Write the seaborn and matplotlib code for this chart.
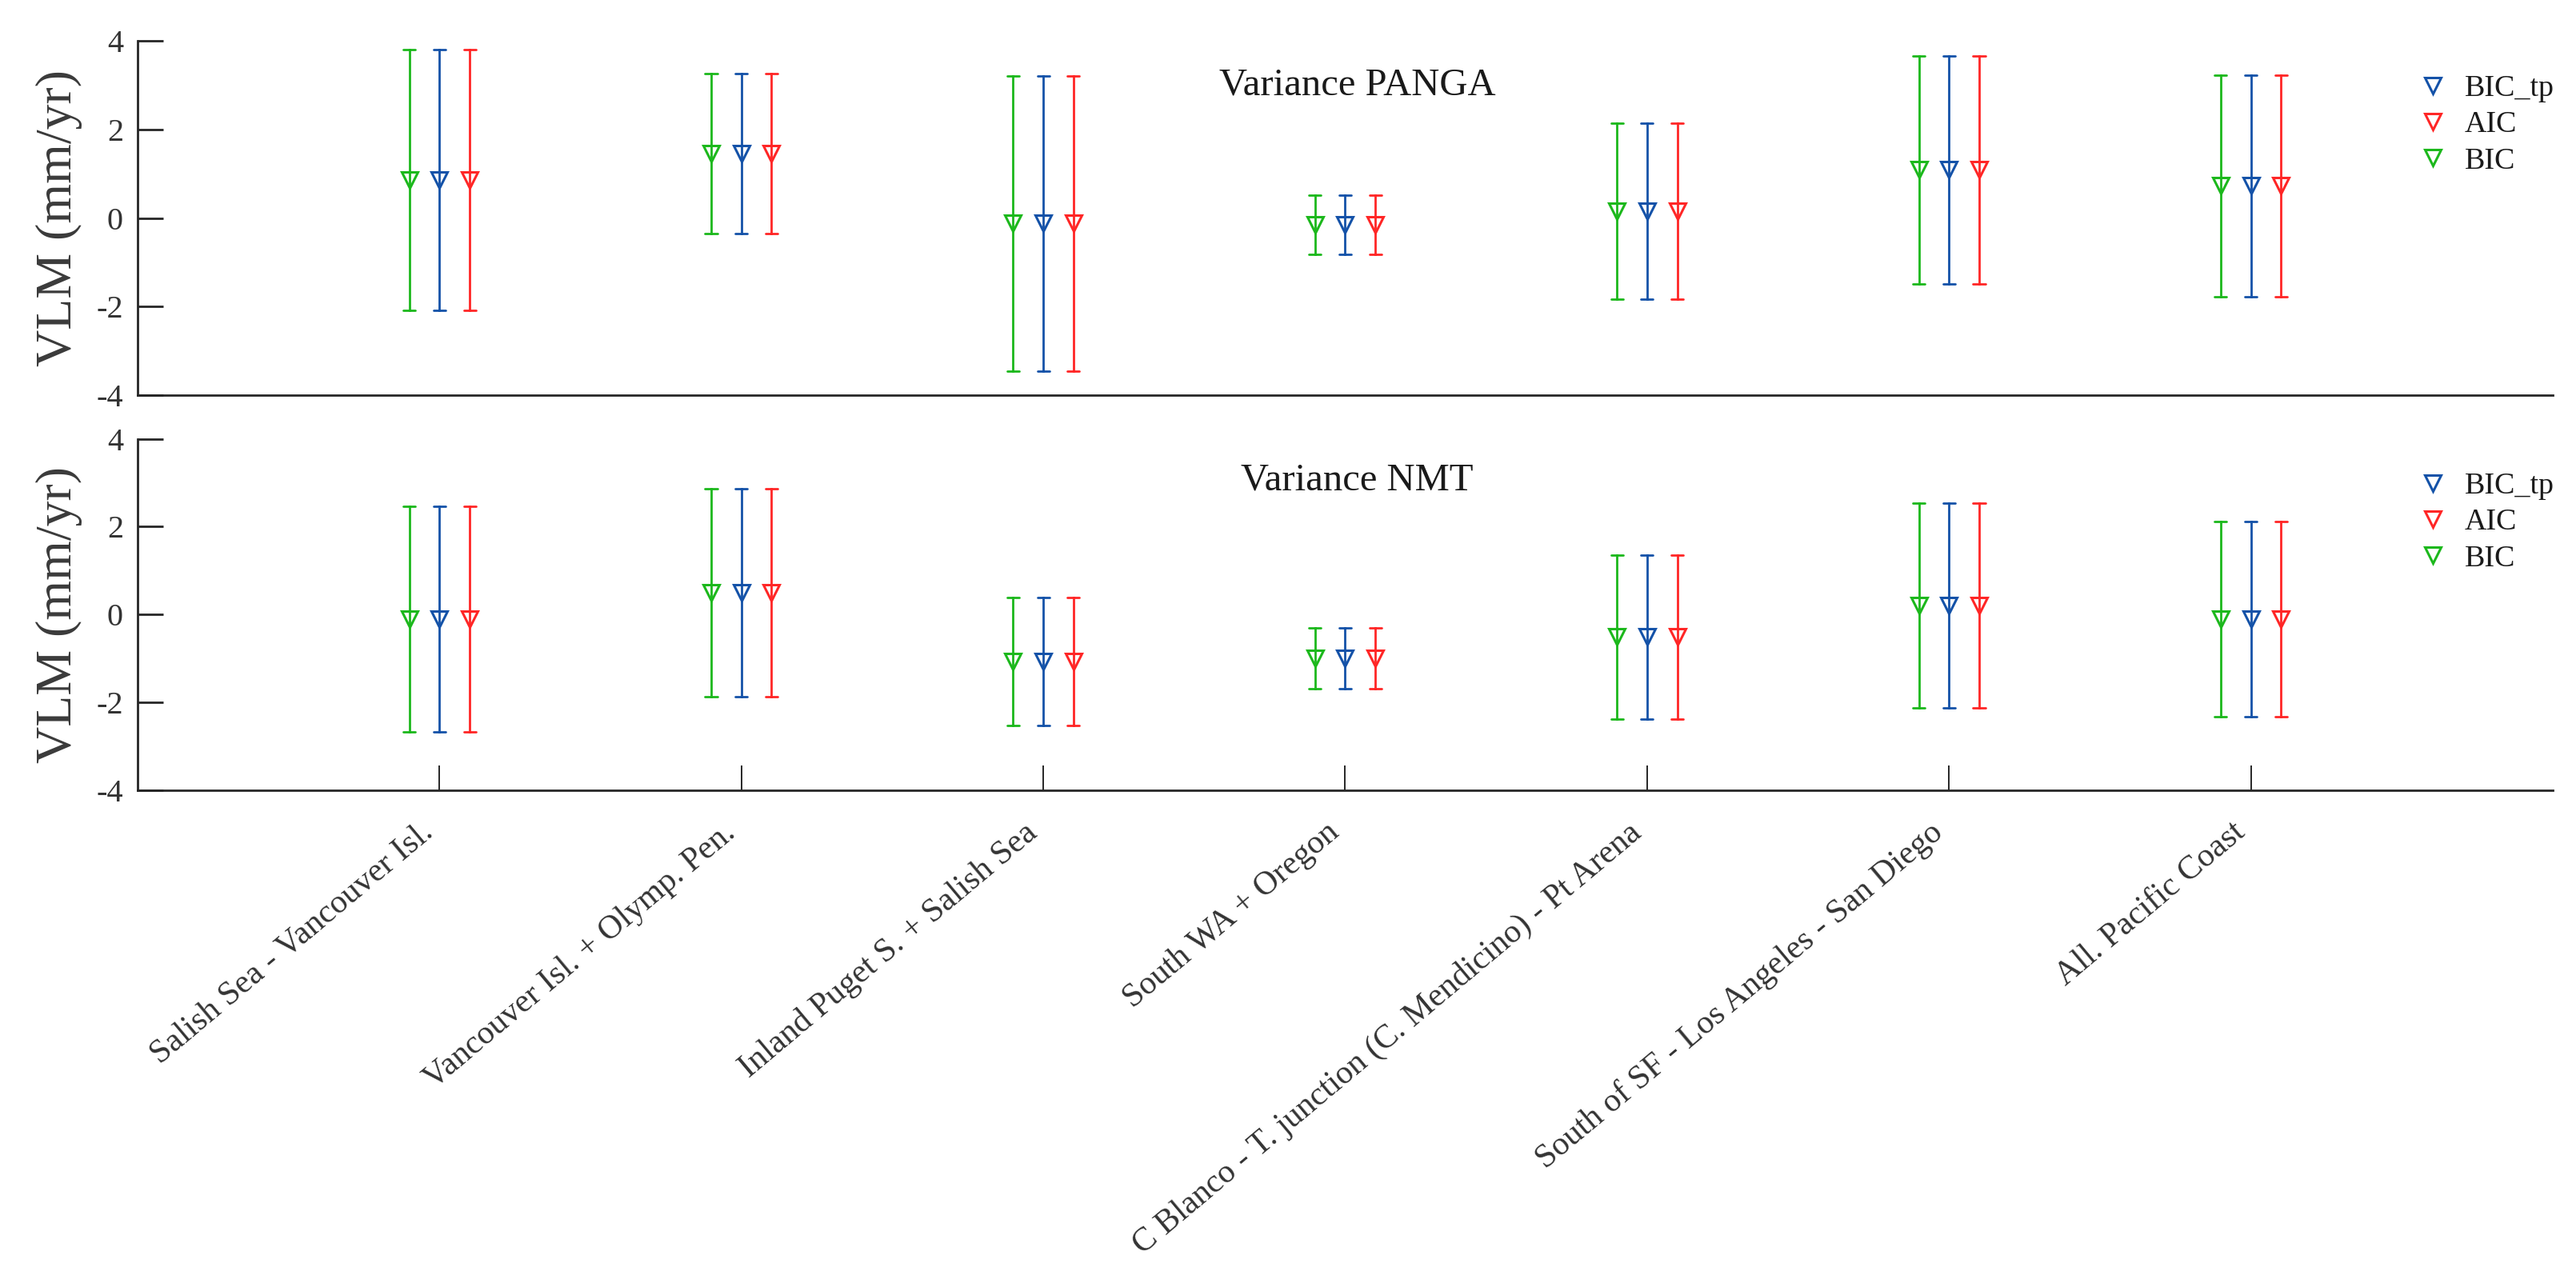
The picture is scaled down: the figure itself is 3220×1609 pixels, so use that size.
import pandas as pd
import matplotlib
matplotlib.use("Agg")
import matplotlib.pyplot as plt
import matplotlib.transforms as mtransforms
from matplotlib.lines import Line2D
import seaborn as sns

regions = [
    "Salish Sea - Vancouver Isl.",
    "Vancouver Isl. + Olymp. Pen.",
    "Inland Puget S. + Salish Sea",
    "South WA + Oregon",
    "C Blanco - T. junction (C. Mendicino) - Pt Arena",
    "South of SF - Los Angeles - San Diego",
    "All. Pacific Coast",
]
models = ["BIC", "BIC_tp", "AIC"]          # left to right inside each group
legend_order = ["BIC_tp", "AIC", "BIC"]
colors = {"BIC": "#1CB81C", "BIC_tp": "#1452A8", "AIC": "#FF2626"}

# VLM (mm/yr) and half-width of the interval
# (the three criteria give the same numbers)
panga_vlm = [0.86, 1.46, -0.12, -0.15, 0.15, 1.09, 0.73]
panga_err = [2.95, 1.81, 3.33, 0.67, 1.99, 2.57, 2.51]
nmt_vlm = [-0.10, 0.50, -1.07, -0.99, -0.51, 0.20, -0.11]
nmt_err = [2.57, 2.37, 1.46, 0.69, 1.87, 2.33, 2.22]


def long_table(vlm, err):
    # low / centre / high rows so that median + full range gives the bar
    rows = []
    for r, v, e in zip(regions, vlm, err):
        for m in models:
            for y in (v - e, v, v + e):
                rows.append({"region": r, "model": m, "vlm": y})
    return pd.DataFrame(rows)


sns.set_style("white")
plt.rcParams["font.family"] = ["Liberation Serif", "DejaVu Serif"]
plt.rcParams["axes.unicode_minus"] = False

fig = plt.figure(figsize=(16.1, 8.045), dpi=200)
ax_top = fig.add_axes([0.0534, 0.693, 0.9376, 0.275])
ax_bot = fig.add_axes([0.0534, 0.386, 0.9376, 0.273])

panels = [
    (ax_top, long_table(panga_vlm, panga_err), "Variance PANGA", 0.875),
    (ax_bot, long_table(nmt_vlm, nmt_err), "Variance NMT", 0.882),
]

for ax, df, title, ty in panels:
    sns.pointplot(data=df, x="region", y="vlm", hue="model", order=regions,
                  hue_order=models, palette=colors, estimator="median",
                  errorbar=("pi", 100), dodge=0.2, markers="v", linestyle="none",
                  capsize=0.04, err_kws={"linewidth": 1.0}, markersize=7,
                  markeredgewidth=1.1, markerfacecolor="none", legend=False, ax=ax)
    ax.set_xlim(-1, 7)
    ax.set_ylim(-4, 4)
    ax.set_yticks([-4, -2, 0, 2, 4])
    ax.set_xlabel("")
    ax.set_ylabel("VLM (mm/yr)", fontsize=23, color="#3a3a3a")
    ax.yaxis.set_label_coords(-0.0229, 0.5)
    ax.tick_params(axis="y", left=True, direction="in", length=11.5, width=1.0,
                   pad=6.5, labelsize=14.5, labelcolor="#333333", color="#262626")
    sns.despine(ax=ax)
    for side in ("left", "bottom"):
        ax.spines[side].set_linewidth(1.0)
        ax.spines[side].set_color("#262626")
    ax.text(0.505, ty, title, transform=ax.transAxes, ha="center", va="center",
            fontsize=17.5, color="#1a1a1a")

    handles = [Line2D([], [], linestyle="none", marker="v", markersize=7,
                      markerfacecolor="none", markeredgecolor=colors[m],
                      markeredgewidth=1.1) for m in legend_order]
    leg = ax.legend(handles, legend_order, loc="upper left",
                    bbox_to_anchor=(0.944, 0.905), frameon=False, fontsize=13.7,
                    handlelength=1.0, handletextpad=0.55, labelspacing=0.28,
                    borderpad=0, borderaxespad=0)
    for t in leg.get_texts():
        t.set_color("#1a1a1a")

ax_top.tick_params(axis="x", bottom=False, labelbottom=False)

ax_bot.set_xticks(range(len(regions)))
ax_bot.set_xticklabels(regions, rotation=40, ha="right", va="top",
                       rotation_mode="anchor")
ax_bot.tick_params(axis="x", bottom=True, direction="in", length=11, width=0.7,
                   pad=12, labelsize=15, labelcolor="#333333", color="#262626")
shift = mtransforms.ScaledTranslation(-9 / 72, 0, fig.dpi_scale_trans)
for lab in ax_bot.get_xticklabels():
    lab.set_transform(lab.get_transform() + shift)

fig.savefig("out.png", dpi=200)
